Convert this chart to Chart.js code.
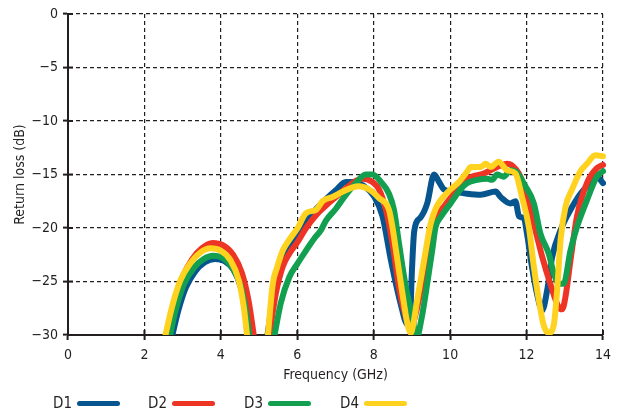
<!DOCTYPE html>
<html>
<head>
<meta charset="utf-8">
<script src="https://cdn.jsdelivr.net/npm/chart.js@4"></script>
<style>
  body { margin: 0; background: #fff; }
  #wrap { position: relative; width: 618px; height: 416px; }
  #legend { position: absolute; left: 0; top: 392px; width: 618px; height: 22px;
            font-family: 'Liberation Sans Narrow', 'DejaVu Sans Condensed', 'Roboto', sans-serif;
            font-size: 15px; color: #231f20; }
  .item { position: absolute; top: 0; display: flex; align-items: center; height: 22px; }
  .swatch { display: inline-block; width: 43px; height: 5px; border-radius: 3px; margin-left: 5px; }
</style>
</head>
<body>
<div id="wrap">
  <canvas id="returnLossChart" width="618" height="416"></canvas>
  <div id="legend"></div>
</div>
<script>
// données (null = coupure sous -30 dB)
const seriesNames = ['D1', 'D2', 'D3', 'D4'];
const seriesColors = ['#07558f', '#ee3424', '#12a050', '#ffd21f'];

const freqD1 = [2.70, 2.88, 3.08, 3.32, 3.58, 3.85, 4.10, 4.33, 4.52, 4.66, 4.76,
  5.0,
  5.20, 5.38, 5.58, 5.80, 6.00, 6.25, 6.50, 6.75, 7.00, 7.27, 7.50, 7.75, 8.00, 8.23, 8.45, 8.70, 8.88, 8.95, 9.00, 9.06,
  9.23, 9.40, 9.58, 9.71, 9.84, 10.10, 10.45, 10.80, 11.19, 11.32, 11.58, 11.71, 11.80, 11.93, 12.01, 12.14, 12.27,
  12.41, 12.54, 12.67, 12.89, 13.15, 13.41, 13.67, 13.84, 14.00];
const lossD1 = [-30.5, -27.8, -25.6, -24.1, -23.2, -22.9, -23.1, -23.9, -25.5, -27.8, -30.5,
  null,
  -30.5, -26.3, -23.4, -21.7, -20.6, -19.3, -18.2, -17.3, -16.5, -15.7, -15.7, -16.1, -17.0, -18.9, -23.0, -27.0, -29.0, -28.5, -24.0, -20.3,
  -19.0, -17.7, -15.0, -15.7, -16.4, -16.6, -16.8, -16.9, -16.6, -17.1, -17.7, -17.5, -18.9, -19.1, -20.5, -23.6, -26.1,
  -27.7, -25.8, -22.7, -20.2, -18.3, -16.8, -15.8, -15.2, -15.8];

const freqD2 = [2.59, 2.78, 3.00, 3.25, 3.50, 3.78, 4.05, 4.32, 4.55, 4.73, 4.88,
  5.0,
  5.25, 5.44, 5.62, 5.79, 6.01, 6.23, 6.49, 6.75, 7.01, 7.27, 7.53, 7.71, 7.97, 8.14, 8.32, 8.49, 8.66, 8.84, 8.97, 9.10,
  9.23, 9.40, 9.58, 9.84, 10.10, 10.45, 10.88, 11.23, 11.49, 11.60, 11.84, 12.01, 12.19, 12.41, 12.62, 12.84, 12.93,
  13.02, 13.15, 13.32, 13.58, 13.84, 14.00];
const lossD2 = [-30.5, -27.3, -24.6, -22.9, -21.9, -21.4, -21.6, -22.5, -24.2, -26.9, -30.5,
  null,
  -30.5, -26.1, -23.6, -22.4, -21.3, -20.0, -18.8, -17.9, -17.1, -16.3, -15.6, -15.4, -15.7, -16.4, -18.3, -21.4, -25.5, -28.3, -29.4, -28.0,
  -25.8, -22.1, -19.3, -18.0, -16.8, -15.4, -14.9, -14.3, -14.0, -14.1, -15.2, -17.1, -19.6, -22.7, -25.2, -27.4, -27.6,
  -26.4, -23.0, -18.9, -15.8, -14.4, -14.1];

const freqD3 = [2.64, 2.83, 3.04, 3.30, 3.55, 3.80, 4.05, 4.30, 4.50, 4.65, 4.76,
  5.0,
  5.38, 5.57, 5.79, 6.01, 6.23, 6.44, 6.62, 6.75, 7.01, 7.27, 7.53, 7.79, 7.97, 8.19, 8.40, 8.53, 8.66, 8.84, 9.01, 9.12,
  9.25, 9.40, 9.53, 9.62, 9.75, 10.01, 10.27, 10.45, 10.71, 10.97, 11.10, 11.23, 11.40, 11.58, 11.71, 11.97, 12.19,
  12.36, 12.58, 12.71, 12.84, 12.97, 13.15, 13.32, 13.58, 13.84, 14.00];
const lossD3 = [-30.5, -27.5, -25.2, -23.7, -22.9, -22.6, -22.8, -23.7, -25.2, -27.6, -30.5,
  null,
  -30.5, -27.0, -24.6, -23.3, -22.1, -21.0, -20.2, -19.3, -18.2, -16.9, -15.8, -15.0, -15.0, -15.7, -16.8, -18.3, -21.4, -25.5, -28.3, -30.3,
  -28.5, -25.2, -22.1, -19.9, -19.0, -17.7, -16.4, -15.8, -15.5, -15.4, -15.5, -15.0, -15.2, -14.6, -14.7, -16.1, -17.7,
  -20.5, -22.4, -24.2, -25.2, -25.2, -22.1, -19.9, -17.4, -15.2, -14.7];

const freqD4 = [2.52, 2.72, 2.94, 3.20, 3.46, 3.73, 3.99, 4.25, 4.47, 4.60, 4.70,
  5.0,
  5.22, 5.36, 5.47, 5.62, 5.79, 6.01, 6.23, 6.49, 6.66, 6.92, 7.19, 7.45, 7.62, 7.88, 8.14, 8.40, 8.49, 8.62, 8.75, 8.88,
  8.97, 9.06, 9.14, 9.32, 9.49, 9.62, 9.75, 10.01, 10.23, 10.45, 10.54, 10.80, 10.93, 11.06, 11.27, 11.49, 11.71,
  11.88, 12.06, 12.19, 12.32, 12.45, 12.58, 12.71, 12.80, 12.89, 13.02, 13.19, 13.41, 13.58, 13.80, 14.00];
const lossD4 = [-30.5, -27.4, -24.9, -23.3, -22.3, -21.9, -22.1, -23.0, -24.9, -27.4, -30.5,
  null,
  -30.5, -25.2, -23.7, -22.1, -21.1, -20.0, -18.6, -18.3, -17.5, -17.1, -16.6, -16.2, -16.1, -16.4, -17.2, -18.3, -19.9, -23.0, -26.1, -28.9,
  -29.8, -28.5, -26.7, -23.0, -19.6, -18.2, -17.4, -16.4, -15.7, -14.7, -14.3, -14.3, -14.0, -14.3, -13.8, -14.6, -14.9,
  -17.1, -19.9, -23.6, -26.7, -29.1, -29.8, -29.1, -25.8, -21.1, -18.0, -16.4, -14.7, -14.0, -13.2, -13.3];

const freqTicks = [0, 2, 4, 6, 8, 10, 12, 14];
const lossTicks = [0, -5, -10, -15, -20, -25, -30];

const allFreq = [freqD1, freqD2, freqD3, freqD4];
const allLoss = [lossD1, lossD2, lossD3, lossD4];

const fontFamily = "'Liberation Sans Narrow', 'DejaVu Sans Condensed', 'Roboto', sans-serif";
const ink = '#231f20';

// petites marques en croix sur les axes, côté intérieur
const innerTicks = {
    id: 'innerTicks',
    afterDatasetsDraw(chart) {
        const { ctx, chartArea, scales } = chart;
        ctx.save();
        ctx.strokeStyle = ink;
        ctx.lineWidth = 2;
        freqTicks.forEach(v => {
            const x = scales.x.getPixelForValue(v);
            ctx.beginPath();
            ctx.moveTo(x, chartArea.bottom);
            ctx.lineTo(x, chartArea.bottom - 5);
            ctx.stroke();
        });
        lossTicks.forEach(v => {
            const y = scales.y.getPixelForValue(v);
            ctx.beginPath();
            ctx.moveTo(chartArea.left, y);
            ctx.lineTo(chartArea.left + 5, y);
            ctx.stroke();
        });
        ctx.restore();
    }
};

const minus = v => (v < 0 ? '\u2212' + Math.abs(v) : String(v));

let ctx = document.getElementById('returnLossChart').getContext('2d');
let returnLossChart = new Chart(ctx, {
    type: 'line',
    data: {
        datasets: seriesNames.map((name, i) => ({
            label: name,
            data: allFreq[i].map((f, j) => ({ x: f, y: allLoss[i][j] })),
            borderColor: seriesColors[i],
            borderWidth: 6,
            pointRadius: 0,
            fill: false,
            spanGaps: false,
            cubicInterpolationMode: 'monotone',
            borderCapStyle: 'round',
            borderJoinStyle: 'round',
            clip: { left: 0, top: 0, right: 3, bottom: 0 },
            order: seriesNames.length - i
        }))
    },
    options: {
        responsive: false,
        animation: false,
        layout: { padding: { left: 0, right: 15, top: 14, bottom: 32 } },
        scales: {
            x: {
                type: 'linear',
                min: 0,
                max: 14,
                afterFit: s => { s.height = 49; },
                afterBuildTicks: s => { s.ticks = freqTicks.map(v => ({ value: v })); },
                ticks: {
                    padding: 7,
                    color: ink,
                    font: { family: fontFamily, size: 14 },
                    maxRotation: 0
                },
                grid: {
                    color: ink,
                    lineWidth: 1.2,
                    tickColor: ink,
                    tickWidth: 2,
                    tickLength: 5,
                    tickBorderDash: []
                },
                border: { display: true, color: ink, width: 2, dash: [4, 3] },
                title: {
                    display: true,
                    text: 'Frequency (GHz)',
                    color: ink,
                    font: { family: fontFamily, size: 14 },
                    padding: { top: 0, bottom: 0 }
                }
            },
            y: {
                type: 'linear',
                min: -30,
                max: 0,
                afterFit: s => { s.width = 68; },
                afterBuildTicks: s => { s.ticks = lossTicks.map(v => ({ value: v })); },
                ticks: {
                    padding: 5,
                    color: ink,
                    font: { family: fontFamily, size: 14 },
                    callback: v => minus(v)
                },
                grid: {
                    color: ink,
                    lineWidth: 1.2,
                    tickColor: ink,
                    tickWidth: 2,
                    tickLength: 5,
                    tickBorderDash: []
                },
                border: { display: true, color: ink, width: 2, dash: [4, 3] },
                title: {
                    display: true,
                    text: 'Return loss (dB)',
                    color: ink,
                    font: { family: fontFamily, size: 14 },
                    padding: { top: 12, bottom: 0 }
                }
            }
        },
        plugins: {
            legend: { display: false },
            tooltip: { enabled: false }
        }
    },
    plugins: [innerTicks]
});

// légende sous le graphique : texte puis trait
let legend = document.getElementById('legend');
const legendLeft = [53, 148, 244, 340];
seriesNames.forEach((name, i) => {
    let item = document.createElement('div');
    item.className = 'item';
    item.style.left = legendLeft[i] + 'px';
    let label = document.createElement('span');
    label.textContent = name;
    let swatch = document.createElement('span');
    swatch.className = 'swatch';
    swatch.style.background = seriesColors[i];
    item.appendChild(label);
    item.appendChild(swatch);
    legend.appendChild(item);
});
</script>
</body>
</html>
